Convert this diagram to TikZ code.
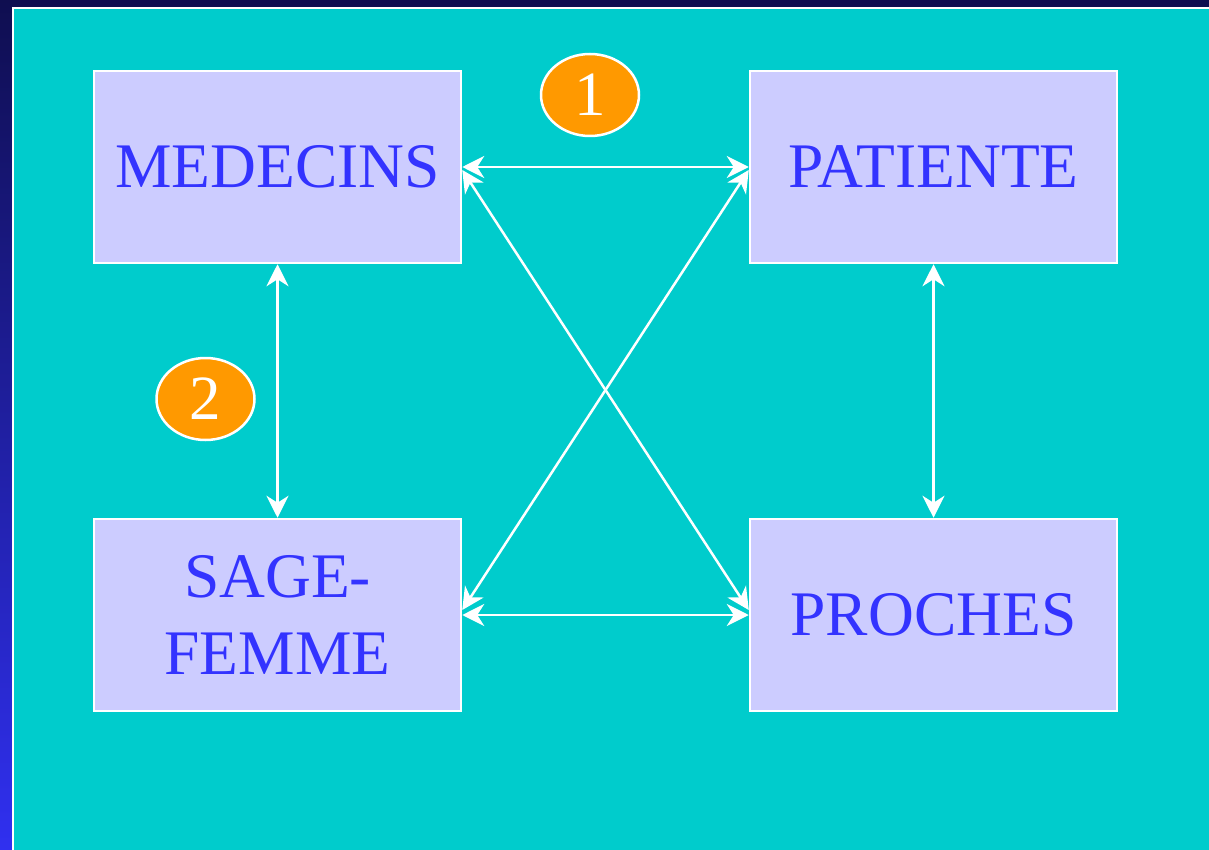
\documentclass[tikz,border=0pt]{standalone}
\usepackage{fontspec}
\setmainfont{Liberation Serif}
\usetikzlibrary{shapes.geometric,arrows.meta}
\definecolor{bgtop}{HTML}{0F0E50}
\definecolor{bgbot}{HTML}{3030F0}
\definecolor{panel}{HTML}{00CCCC}
\definecolor{boxfill}{HTML}{CCCCFF}
\definecolor{boxtext}{HTML}{3333FF}
\definecolor{badge}{HTML}{FF9900}
\tikzset{
  actor/.style={rectangle, draw=white, line width=2.5pt, fill=boxfill,
    minimum width=367pt, minimum height=192pt, inner sep=0pt,
    text=boxtext, align=center,
    font=\fontsize{63.5}{77}\selectfont},
  badgenode/.style={ellipse, draw=white, line width=2.5pt, fill=badge,
    minimum width=98pt, minimum height=82pt, inner sep=0pt,
    text=white, font=\fontsize{63}{70}\selectfont},
  link/.style={draw=white, line width=2.5pt,
    {Stealth[length=22pt,width=22pt,inset=7pt]}-{Stealth[length=22pt,width=22pt,inset=7pt]}}
}
\begin{document}
\begin{tikzpicture}[x=1pt,y=-1pt]
\useasboundingbox (0,0) rectangle (1209,850);
\shade[top color=bgtop, bottom color=bgbot] (0,0) rectangle (1209,850);
\fill[panel, draw=white, line width=2pt] (13,8) rectangle (1230,870);

\node[actor] (med) at (277.5,167) {MEDECINS};
\node[actor] (pat) at (933.5,167) {PATIENTE};
\node[actor] (sage) at (277.5,615) {SAGE-\\FEMME};
\node[actor] (proc) at (933.5,615) {PROCHES};

\node[badgenode] (b1) at (590,95) {1};
\node[badgenode] (b2) at (205.5,399) {2};

\draw[link] (med.east) -- (pat.west);
\draw[link] (sage.east) -- (proc.west);
\draw[link] (med.south) -- (sage.north);
\draw[link] (pat.south) -- (proc.north);
\draw[link] ([yshift=-3pt]med.east) -- ([yshift=5pt]proc.west);
\draw[link] ([yshift=-3pt]pat.west) -- ([yshift=5pt]sage.east);
\end{tikzpicture}
\end{document}
